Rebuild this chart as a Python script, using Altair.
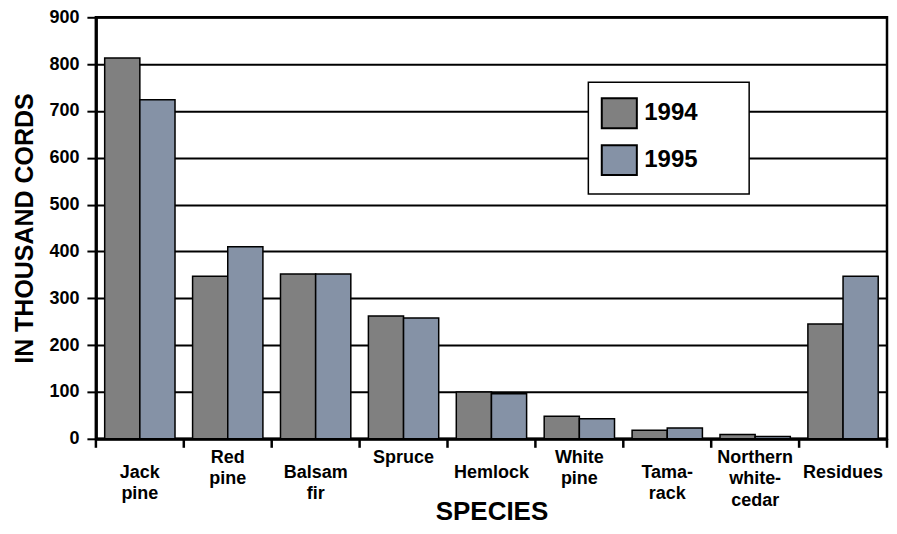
import altair as alt
import pandas as pd

species = ["Jack pine", "Red pine", "Balsam fir", "Spruce", "Hemlock",
           "White pine", "Tamarack", "Northern white-cedar", "Residues"]
tick_labels = ["Jack\npine", "Red\npine", "Balsam\nfir", "Spruce", "Hemlock",
               "White\npine", "Tama-\nrack", "Northern\nwhite-\ncedar", "Residues"]
years = ["1994", "1995"]
v1994 = [813, 347, 352, 262, 100, 48, 18, 9, 245]
v1995 = [724, 410, 352, 258, 96, 43, 23, 5, 347]
colors = ["#808080", "#8592A6"]
y_ticks = [0, 100, 200, 300, 400, 500, 600, 700, 800, 900]

rows = []
for s, a, b in zip(species, v1994, v1995):
    rows.append({"species": s, "year": "1994", "value": a})
    rows.append({"species": s, "year": "1995", "value": b})
df = pd.DataFrame(rows)

lab_a = pd.DataFrame({"species": species[0::2], "label": tick_labels[0::2]})
lab_b = pd.DataFrame({"species": species[1::2], "label": tick_labels[1::2]})
tick_df = pd.DataFrame({"species": species})
end_df = pd.DataFrame({"species": species[-1:]})

W, H = 792, 422
FONT = "Liberation Sans"

xscale = alt.Scale(domain=species, paddingInner=0, paddingOuter=0)
xaxis = alt.Axis(labels=False, ticks=False, domain=True, title="SPECIES",
                 domainWidth=3, titlePadding=60, titleFontSize=26, grid=False)

pad = "\u2800" * 2

bars = alt.Chart(df).mark_bar(stroke="black", strokeWidth=1.5, opacity=1).encode(
    x=alt.X("species:N", scale=xscale, sort=species, axis=xaxis),
    xOffset=alt.XOffset("year:N", sort=years,
                        scale=alt.Scale(paddingInner=0, paddingOuter=0.25)),
    y=alt.Y("value:Q", scale=alt.Scale(domain=[0, 900], nice=False),
            axis=alt.Axis(values=y_ticks, title="IN THOUSAND CORDS", titleFontSize=25,
                          titlePadding=11, labelFontSize=18, labelPadding=8, tickSize=9,
                          tickWidth=2, domainWidth=3, grid=True, gridWidth=2)),
    color=alt.Color("year:N", scale=alt.Scale(domain=years, range=colors),
                    legend=alt.Legend(title=None, orient="none", legendX=493, legendY=65,
                                      padding=15, strokeColor="black", fillColor="white",
                                      symbolType="M-1.17,-1H1.17V1H-1.17Z", symbolSize=900,
                                      symbolStrokeColor="black", symbolStrokeWidth=2,
                                      symbolOpacity=1, labelFontSize=24, labelFont=FONT,
                                      labelFontWeight="bold", labelColor="black",
                                      rowPadding=9, labelOffset=9,
                                      labelExpr="datum.label + '" + pad + "'")),
)

def tick_layer(d, band_pos):
    return alt.Chart(d).mark_rule(color="black", strokeWidth=2.5).encode(
        x=alt.X("species:N", scale=xscale, sort=species, axis=xaxis, bandPosition=band_pos),
        y=alt.value(H),
        y2=alt.value(H + 9),
    )

def label_layer(d, ypos):
    return alt.Chart(d).mark_text(baseline="top", align="center", lineBreak="\n",
                                  fontSize=18, font=FONT, fontWeight="bold",
                                  lineHeight=21.5, color="black").encode(
        x=alt.X("species:N", scale=xscale, sort=species, axis=xaxis),
        y=alt.value(ypos),
        text="label:N",
    )

chart = alt.layer(
    bars, tick_layer(tick_df, 0), tick_layer(end_df, 1),
    label_layer(lab_a, H + 25), label_layer(lab_b, H + 10)
).properties(
    width=W, height=H, padding={"left": 4, "top": 0, "right": 0, "bottom": 0}
).configure_axis(
    labelFont=FONT, labelFontWeight="bold", labelColor="black",
    titleFont=FONT, titleFontWeight="bold", titleColor="black",
    domainColor="black", tickColor="black", gridColor="black", gridOpacity=1
).configure_view(stroke="black", strokeWidth=2.5).configure_legend(strokeWidth=1.5)

chart.save("out.html", embed_options={"renderer": "svg", "actions": False})
